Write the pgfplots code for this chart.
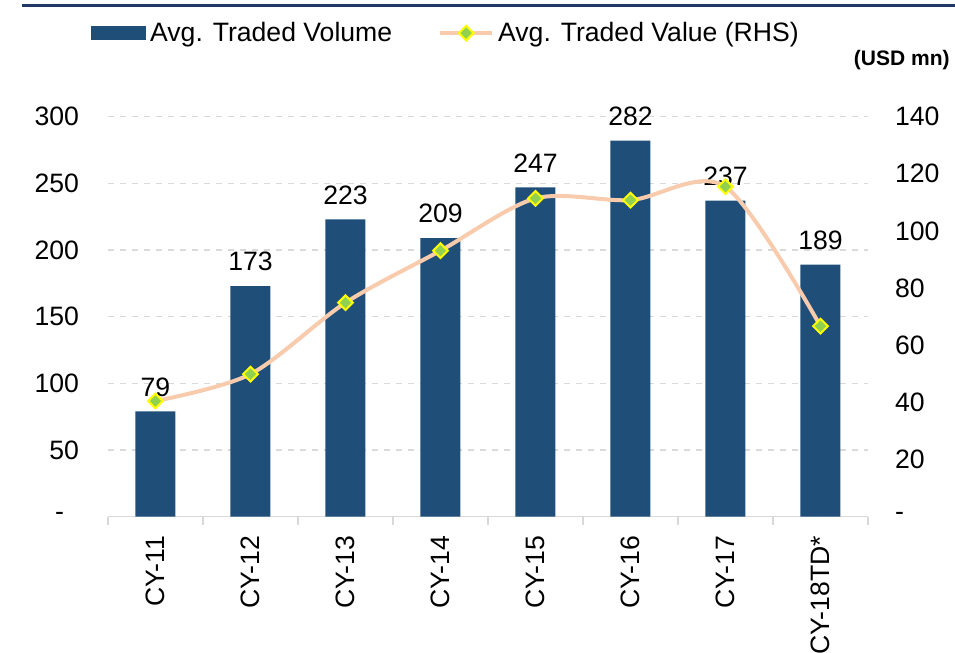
\documentclass[border=0pt]{standalone}
\usepackage{fontspec}
\setmainfont{Liberation Sans}
\usepackage{pgfplots}
\pgfplotsset{compat=1.18}
\definecolor{barblue}{HTML}{1F4E79}
\definecolor{peach}{HTML}{F8CBAD}
\definecolor{mkgreen}{HTML}{92D050}
\definecolor{mkyellow}{HTML}{FFFF00}
\definecolor{navy}{HTML}{203864}
\definecolor{gridgray}{HTML}{D9D9D9}
\newcommand{\lbl}{\fontsize{13.3}{15}\selectfont}
\pgfplotsset{
  /pgf/number format/assume math mode=true,
  twin/.style={
    scale only axis, width=380pt, height=200pt,
    at={(0,0)}, anchor=south west,
    xmin=-0.5, xmax=7.5,
    tick label style={font=\lbl},
    major tick length=0pt,
  },
  lineleg/.style={legend image code/.code={\draw[mark repeat=2, mark phase=2, ##1]
    plot coordinates {(0pt,0pt) (13pt,0pt) (26pt,0pt)};}},
}
\begin{document}
\begin{tikzpicture}
% left axis: volume bars
\begin{axis}[
  twin,
  ymin=0, ymax=300,
  ytick={0,50,...,300},
  yticklabels={-\hspace*{7.5pt},50,100,150,200,250,300},
  yticklabel style={xshift=-11pt},
  xtick={0,...,7},
  xticklabels={CY-11,CY-12,CY-13,CY-14,CY-15,CY-16,CY-17,CY-18TD*},
  xticklabel style={yshift=-6pt, rotate=90, anchor=east},
  minor xtick={-0.5,0.5,...,7.5},
  minor tick length=4pt,
  tick align=outside,
  axis x line*=bottom, axis y line*=left,
  y axis line style={draw=none},
  x axis line style={-, draw=gridgray, line width=0.8pt},
  minor tick style={draw=gridgray, line width=0.8pt},
  ymajorgrids,
  grid style={gridgray, dash pattern=on 3pt off 3pt, line width=0.75pt},
  ybar, bar width=20pt,
  nodes near coords,
  nodes near coords style={font=\lbl, yshift=4pt},
]
\addplot[fill=barblue, draw=none] coordinates
  {(0,79) (1,173) (2,223) (3,209) (4,247) (5,282) (6,237) (7,189)};
\end{axis}
% right axis: value line
\begin{axis}[
  twin,
  ymin=0, ymax=140,
  ytick={0,20,...,140},
  yticklabels={-,20,40,60,80,100,120,140},
  yticklabel style={xshift=10pt},
  axis y line*=right, axis x line=none,
  y axis line style={draw=none},
  legend columns=2,
  legend style={draw=none, fill=none, font=\lbl,
    at={(rel axis cs:-0.0224,1.209)}, anchor=west,
    inner sep=0pt, nodes={inner sep=0pt},
    /tikz/every odd column/.append style={column sep=2pt},
    /tikz/every even column/.append style={column sep=23pt}},
]
\addlegendimage{legend image code/.code={\fill[barblue] (0pt,-3.25pt) rectangle (27pt,3.25pt);}}
\addlegendentry{Avg. Traded Volume}
\addplot[peach, line width=2pt, smooth, mark=square*, mark size=2.6pt,
  mark options={rotate=45, fill=mkgreen, draw=mkyellow, line width=1pt}, lineleg]
  coordinates {(0,40.5) (1,49.9) (2,74.9) (3,93.1) (4,111.4) (5,110.8) (6,115.5) (7,66.7)};
\addlegendentry{Avg. Traded Value (RHS)}
\end{axis}
\draw[navy, line width=1.5pt] (-43pt,255.35pt) -- (423.5pt,255.35pt);
\node[anchor=east, inner sep=0pt, font=\fontsize{10.5}{12}\selectfont\bfseries] at (421pt,228.35pt) {(USD mn)};
\pgfresetboundingbox
\path (-54pt,-68.15pt) rectangle (423.5pt,258.35pt);
\end{tikzpicture}
\end{document}
